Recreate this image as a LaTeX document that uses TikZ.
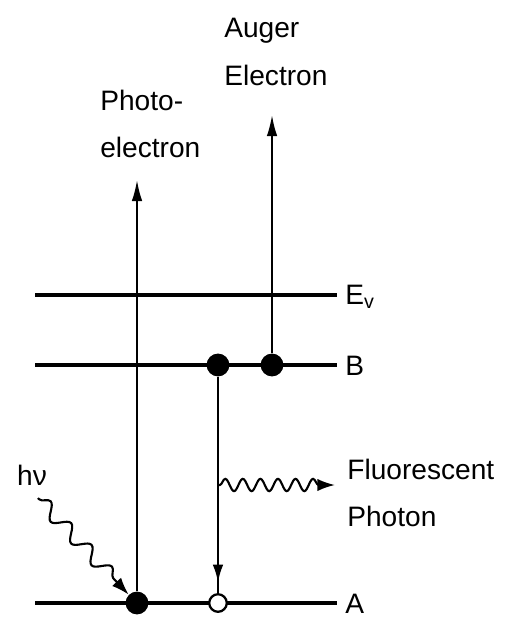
\documentclass[tikz,border=0pt]{standalone}
\usepackage{fontspec}
\setmainfont{Liberation Sans}
\usetikzlibrary{arrows.meta, positioning, calc, decorations.pathmorphing, decorations.markings}

\tikzset{
    level/.style={line width=1.8pt},
    lbl/.style={font=\fontsize{16}{27}\selectfont, inner sep=0pt, align=left},
    elec/.style={circle, fill=black, inner sep=0pt, minimum size=13pt},
    hole/.style={circle, draw=black, fill=white, line width=1.3pt, inner sep=0pt, minimum size=10pt},
    track/.style={line width=1.1pt},
    wave/.style={line width=1.2pt, -{Latex[length=10pt,width=7pt]}, decorate,
        decoration={snake, amplitude=4pt, pre length=1pt, post length=8pt}}
}

\begin{document}
\begin{tikzpicture}[x=0.02cm, y=-0.02cm]
    \useasboundingbox (0,0) rectangle (509,621);

    % energy levels
    \coordinate (ev0) at (35,295);
    \coordinate (ev1) at (337,295);
    \coordinate (b0) at (35,365);
    \coordinate (b1) at (337,365);
    \coordinate (a0) at (35,603);
    \coordinate (a1) at (337,603);
    \draw[level] (ev0) -- (ev1);
    \draw[level] (b0) -- (b1);
    \draw[level] (a0) -- (a1);
    \node[lbl, anchor=west] (evlbl) at (345,297) {E\textsubscript{v}};
    \node[lbl, anchor=west] (blbl) at (345,366) {B};
    \node[lbl, anchor=west] (albl) at (345,604) {A};

    % photoelectron
    \node[elec] (core) at (137,603) {};
    \coordinate (pe) at (137,180);
    \draw[track, -{Latex[length=12pt,width=6pt]}] (core) -- (pe);
    \node[lbl, anchor=west] (pelbl) at (100,124) {Photo-\\electron};

    % incoming photon
    \node[lbl] (hv) at (32,475) {hν};
    \coordinate (hvstart) at (38,498);
    \draw[wave, decoration={segment length=17pt, amplitude=4pt}] (hvstart) -- (core.north west);

    % Auger process
    \node[elec] (bfill) at (218,365) {};
    \node[elec] (auger) at (272,365) {};
    \node[hole] (vac) at (218,603) {};
    \coordinate (ae) at (272,115);
    \draw[track, -{Latex[length=12pt,width=6pt]}] (auger) -- (ae);
    \node[lbl, anchor=west] (aelbl) at (224,52) {Auger\\Electron};

    \draw[track, postaction={decorate, decoration={markings,
        mark=at position 0.95 with {\arrow{Latex[length=10pt,width=6pt]}}}}] (bfill) -- (vac);

    % fluorescence
    \coordinate (fl0) at (218,485);
    \coordinate (fl1) at (335,485);
    \draw[wave, decoration={segment length=10pt, amplitude=3.5pt}] (fl0) -- (fl1);
    \node[lbl, anchor=west] (fllbl) at (347,493) {Fluorescent\\Photon};
\end{tikzpicture}
\end{document}
